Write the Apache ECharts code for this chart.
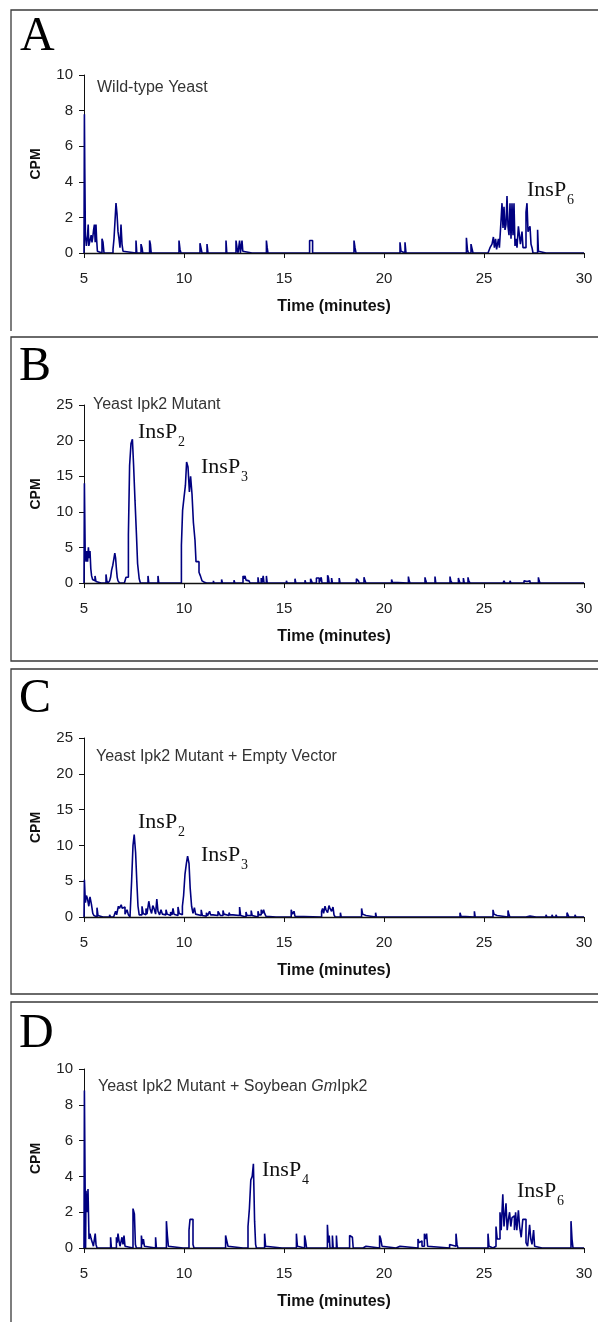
<!DOCTYPE html>
<html><head><meta charset="utf-8">
<script src="https://cdn.jsdelivr.net/npm/echarts@6/dist/echarts.min.js"></script>
<style>html,body{margin:0;padding:0;background:#fff}#c{width:598px;height:1322px}</style>
</head><body><div id="c"></div>
<script>
// ---------- DATA (time in minutes, CPM) ----------
const traceA = [[5.0,0],[5.02,7.8],[5.04,4.7],[5.07,1.0],[5.12,0.4],[5.17,0.9],[5.21,1.6],[5.24,0.4],[5.28,0.3],[5.32,0.8],[5.36,1.0],[5.40,0.6],[5.44,0.9],[5.48,1.3],[5.52,1.6],[5.56,0.6],[5.60,1.6],[5.63,0.8],[5.67,0.1],[5.72,0],[5.90,0.8],[5.95,0.6],[6.0,0],[6.45,0.2],[6.5,0.8],[6.55,1.8],[6.6,2.8],[6.65,2.2],[6.7,1.2],[6.75,0.8],[6.8,0.3],[6.85,1.6],[6.9,0.5],[6.95,0.1],[7.0,0],
[7.6,0.7],[7.64,0],[7.85,0.5],[7.9,0.3],[7.94,0],[8.28,0.7],[8.32,0.5],[8.36,0],[8.8,0.1],[8.85,0],[9.2,0.1],[9.3,0],[9.55,0.1],[9.65,0],[9.75,0.7],[9.8,0.2],[9.85,0],[10.4,0.1],[10.45,0],[10.8,0.55],[10.85,0.45],[10.9,0],[11.15,0.5],[11.2,0],[11.6,0.1],[11.65,0],[12.1,0.7],[12.14,0],[12.6,0.7],[12.65,0.3],[12.7,0],[12.78,0.7],[12.82,0],[12.9,0.7],[12.94,0.1],[13.0,0],[13.4,0.1],[13.45,0],
[14.12,0.7],[14.16,0.3],[14.2,0],[14.45,0.1],[14.5,0],[14.75,0.1],[14.8,0],[16.28,0.7],[16.33,0.6],[16.38,0.7],[16.43,0],[16.85,0.1],[16.9,0],[18.1,0.1],[18.2,0],[18.5,0.7],[18.55,0.3],[18.6,0],[19.0,0.1],[19.05,0],[19.45,0.1],[19.55,0],[20.25,0.1],[20.35,0],[20.8,0.6],[20.85,0.1],[20.9,0],[21.05,0.6],[21.1,0],[21.7,0.1],[21.75,0],[22.55,0.1],[22.6,0],[23.1,0.1],[23.15,0],[23.6,0.1],[23.65,0],
[24.12,0.85],[24.17,0.2],[24.22,0],[24.35,0.5],[24.4,0.4],[24.45,0],[24.6,0.1],[24.65,0],[25.2,0.1],[25.3,0.3],[25.4,0.5],[25.47,0.9],[25.52,0.3],[25.58,0.8],[25.63,0.2],[25.72,0.8],[25.77,0.3],[25.85,1.8],[25.9,2.8],[25.95,1.4],[26.0,2.6],[26.05,1.3],[26.1,1.6],[26.15,3.2],[26.2,1.5],[26.25,1.0],[26.3,2.8],[26.35,0.8],[26.4,2.8],[26.45,1.0],[26.5,2.8],[26.55,0.4],[26.6,0.8],[26.65,0.3],[26.72,1.5],[26.77,1.0],[26.82,0.5],[26.9,1.2],[26.95,0.3],[27.1,2.3],[27.15,2.8],[27.2,1.2],[27.3,1.5],[27.35,0.5],[27.4,0.3],[27.45,0],[27.68,1.3],[27.72,0.1],[27.78,0],[28.1,0.1],[28.15,0],[28.9,0.1],[28.95,0],[30,0]];

const traceB = [[5.0,0],[5.02,14],[5.06,4.1],[5.1,3.0],[5.14,4.5],[5.18,3.0],[5.22,5.0],[5.26,3.5],[5.3,4.5],[5.34,2.0],[5.38,1.0],[5.43,0.5],[5.48,0.3],[5.55,1.0],[5.6,0.2],[5.65,0],[5.85,0.2],[5.9,0],[6.1,1.2],[6.14,0.3],[6.2,0],[6.28,0.3],[6.33,0.8],[6.38,1.8],[6.44,2.5],[6.5,3.5],[6.54,4.2],[6.58,3.5],[6.62,2.0],[6.66,0.8],[6.7,0.3],[6.78,0],[7.02,0.2],[7.1,0.8],[7.22,6.8],[7.28,16.5],[7.35,19.6],[7.42,20.2],[7.48,16.5],[7.55,11.6],[7.62,7],[7.68,2.7],[7.76,0.6],[7.82,0],[8.2,1.0],[8.24,0],[8.7,1.0],[8.74,0],
[9.87,5.3],[9.93,10.2],[10.0,12],[10.07,13.7],[10.13,17],[10.2,16.3],[10.27,12.8],[10.33,15],[10.4,12.5],[10.47,8.5],[10.55,6],[10.6,3],[10.75,1.5],[10.82,1.0],[10.9,0.3],[10.97,0.1],[11.02,0],[11.13,0.1],[11.17,0],[11.47,0.3],[11.5,0],[11.62,0.2],[11.66,0],[11.88,0.5],[11.92,0],[12.1,0.2],[12.14,0],[12.5,0.4],[12.54,0],[12.95,1.0],[13.0,0.6],[13.05,1.0],[13.1,0.4],[13.15,0.3],[13.25,0.3],[13.3,0],[13.7,0.8],[13.74,0],[13.86,0.7],[13.9,0],[13.96,1.0],[14.0,0],[14.12,1.0],[14.16,0],[14.7,0.2],[14.74,0],[15.12,0.3],[15.16,0],[15.55,0.6],[15.59,0],
[16.05,0.4],[16.09,0],[16.33,0.6],[16.38,0.5],[16.42,0],[16.62,0.7],[16.67,0.9],[16.72,0.7],[16.76,0],[16.86,0.8],[16.9,0],[17.18,1.1],[17.22,0.8],[17.26,0],[17.38,0.7],[17.42,0],[17.76,0.7],[17.8,0],[18.62,0.6],[18.67,0.8],[18.72,0.3],[18.76,0],[19.0,0.8],[19.05,0.3],[19.1,0],[19.65,0.1],[19.7,0],[20.38,0.5],[20.42,0.1],[20.48,0],[21.22,0.9],[21.26,0.3],[21.3,0],[22.05,0.8],[22.09,0.3],[22.13,0],[22.55,0.9],[22.59,0],[23.3,0.9],[23.34,0.3],[23.4,0],[23.72,0.7],[23.76,0.3],[23.8,0],[23.97,0.7],[24.01,0],[24.2,0.8],[24.24,0.3],[24.3,0],[24.52,0.1],[24.56,0],[25.95,0.2],[26.0,0.3],[26.05,0],[26.3,0.3],[26.35,0],[27.0,0.3],[27.1,0.2],[27.15,0],[27.25,0.3],[27.3,0],[27.72,0.8],[27.76,0.3],[27.8,0],[28.45,0.2],[28.5,0],[30,0]];

const traceC = [[5.0,0],[5.02,5.2],[5.07,2.0],[5.12,3.0],[5.18,2.5],[5.24,1.5],[5.3,2.8],[5.37,1.8],[5.44,0.5],[5.5,0.2],[5.56,0],[5.65,1.3],[5.7,0.2],[5.75,0],[5.95,0.2],[6.0,0],[6.28,0.3],[6.33,0],[6.48,0.2],[6.58,0.8],[6.63,0.3],[6.72,1.5],[6.77,1.2],[6.86,1.7],[6.91,1.2],[6.99,1.4],[7.05,0.4],[7.15,1.0],[7.22,0.3],[7.3,0],[7.38,5],[7.45,10],[7.51,11.5],[7.58,9],[7.64,5],[7.7,1.5],[7.76,0.3],[7.9,1.5],[7.96,0.5],[8.02,0.3],[8.1,1.2],[8.15,0.4],[8.24,2.2],[8.3,1.2],[8.38,0.5],[8.44,1.6],[8.5,1.2],[8.58,0.4],[8.64,2.5],[8.7,0.8],[8.78,0.3],[8.85,1.0],[8.92,0.4],[9.0,0.3],[9.1,1.0],[9.16,0.4],[9.25,0.2],[9.33,0.7],[9.4,0.3],[9.45,1.2],[9.5,0.4],[9.6,0.2],[9.7,1.4],[9.76,0.5],[9.85,0.3],[9.92,1.5],[9.98,3],[10.05,6],[10.12,7.5],[10.18,8.5],[10.25,7.5],[10.31,4],[10.38,1.5],[10.45,0.5],[10.52,1.3],[10.58,0.4],[10.65,0.2],[10.86,1.0],[10.92,0.2],[11.0,0.1],[11.12,0.6],[11.18,0.2],[11.28,0.8],[11.33,0.3],[11.45,0.2],[11.7,0.8],[11.76,0.5],[11.82,0.2],[11.95,0.9],[12.0,0.4],[12.1,0.2],[12.25,0.6],[12.3,0.3],[12.45,0.2],[12.78,1.4],[12.83,0.2],[12.9,0],[13.1,0.7],[13.15,0.2],[13.36,0.9],[13.41,0.2],[13.5,0],[13.7,0.8],[13.75,0.3],[13.86,1.0],[13.92,0.5],[13.98,1.0],[14.03,0.5],[14.1,0.1],[14.15,0],[14.6,0.2],[14.65,0],[14.9,0.1],[14.95,0],
[15.36,1.0],[15.42,0.4],[15.5,0.8],[15.55,0.1],[15.6,0],[16.88,0.8],[16.93,1.2],[16.98,0.5],[17.05,1.5],[17.1,1.0],[17.18,0.6],[17.25,1.6],[17.3,1.2],[17.38,0.8],[17.45,1.4],[17.5,0.3],[17.56,0],[17.82,0.6],[17.86,0],[18.88,1.2],[18.93,0.4],[19.0,0.2],[19.1,0],[19.58,0.6],[19.62,0],[21.22,0.2],[21.27,0],[22.27,0.2],[22.32,0],[22.77,0.2],[22.82,0],[23.8,0.6],[23.85,0.1],[23.9,0],[24.52,0.8],[24.56,0],[25.45,1.0],[25.5,0.4],[25.6,0.2],[25.65,0],[26.2,0.9],[26.25,0.3],[26.3,0],[27.1,0.2],[27.2,0.15],[27.3,0.2],[27.4,0],[27.6,0.2],[27.7,0],[28.1,0.3],[28.15,0],[28.4,0.3],[28.45,0],[28.6,0.3],[28.65,0],[29.15,0.6],[29.2,0.3],[29.25,0],[29.55,0.3],[29.6,0],[29.8,0.2],[29.85,0],[30,0]];

const traceD = [[5.0,0],[5.02,8.8],[5.08,0],[5.1,3.2],[5.16,2.0],[5.2,3.3],[5.25,0.5],[5.3,0.8],[5.36,0.5],[5.42,0.3],[5.47,0.1],[5.52,0],[5.56,0.8],[5.6,0.2],[5.65,0],[6.33,0.6],[6.37,0],[6.62,0.6],[6.66,0.3],[6.7,0.8],[6.75,0.4],[6.8,0.1],[6.9,0.6],[6.95,0.2],[7.0,0.7],[7.05,0.1],[7.1,0],[7.45,2.2],[7.52,1.9],[7.57,0.2],[7.62,0],[7.87,0.7],[7.92,0.2],[7.97,0.5],[8.02,0.1],[8.06,0],[8.58,0.6],[8.62,0],[9.12,1.5],[9.17,0.7],[9.22,0.1],[9.26,0],[9.95,0.1],[10.0,0],[10.25,1.0],[10.3,1.6],[10.38,1.6],[10.45,0.2],[10.5,0],[11.7,0.1],[11.75,0],[12.08,0.7],[12.14,0.4],[12.2,0.1],[12.25,0],[12.95,0.1],[13.0,0],[13.2,1.2],[13.27,2.2],[13.34,3.8],[13.41,4.0],[13.47,4.7],[13.53,1.5],[13.58,0.2],[13.62,0],[14.03,0.8],[14.08,0.1],[14.12,0],[14.9,0.1],[14.95,0],
[15.62,0.8],[15.67,0.1],[15.72,0],[16.03,0.7],[16.08,0.4],[16.13,0],[16.6,0.1],[16.65,0],[17.17,1.3],[17.22,0.3],[17.26,0.7],[17.3,0],[17.42,0.7],[17.46,0],[17.62,0.7],[17.66,0],[18.28,0.7],[18.35,0.6],[18.42,0.7],[18.46,0],[18.95,0.1],[19.1,0],[19.78,0.7],[19.84,0.5],[19.9,0.1],[19.95,0],[20.6,0.1],[20.8,0],[21.7,0.5],[21.76,0.3],[21.85,0.4],[21.9,0.1],[22.02,0.8],[22.08,0.5],[22.13,0.8],[22.18,0.1],[22.22,0],[23.28,0.2],[23.35,0.1],[23.6,0.8],[23.65,0.2],[23.7,0],[25.2,0.8],[25.25,0.1],[25.3,0],[25.45,0.1],[25.6,1.2],[25.66,0.5],[25.8,2.0],[25.86,1.0],[25.94,3.0],[26.0,1.2],[26.1,2.5],[26.16,1.0],[26.22,1.6],[26.28,2.0],[26.34,1.2],[26.4,1.7],[26.46,1.8],[26.52,1.0],[26.58,2.0],[26.64,1.0],[26.72,2.1],[26.78,1.2],[26.86,0.6],[26.94,1.6],[27.02,1.6],[27.1,0.3],[27.18,0.1],[27.28,1.3],[27.34,0.5],[27.4,0.2],[27.48,1.0],[27.53,0.1],[27.58,0],[27.9,0.1],[28.0,0],[29.0,0.1],[29.05,0],[29.35,1.5],[29.4,0.5],[29.45,0],[29.6,0.1],[29.65,0],[30,0]];

const panelLetters = ['A', 'B', 'C', 'D'];
const yMaxes = [10, 25, 25, 10];
const yIntervals = [2, 5, 5, 2];
const xRange = [5, 30];
const xInterval = 5;
const xAxisTitle = 'Time (minutes)';
const yAxisTitle = 'CPM';
const sampleNames = ['Wild-type Yeast', 'Yeast Ipk2 Mutant', 'Yeast Ipk2 Mutant + Empty Vector', '{n|Yeast Ipk2 Mutant + Soybean }{i|Gm}{n|Ipk2}'];
const peakSubscripts = [['6'], ['2', '3'], ['2', '3'], ['4', '6']];

// ---------- LAYOUT ----------
const traces = [traceA, traceB, traceC, traceD];
const gridTops = [75, 405, 738, 1069];
const gridHeights = [178, 178, 179, 179];
const GL = 84, GW = 500;
const letterPos = [[20, 37], [19, 367], [19, 699], [19, 1034]];
const namePos = [[97, 88], [93, 405], [96, 757], [98, 1087]];
const peakPos = [[[527, 190]], [[138, 432], [201, 467]], [[138, 822], [201, 855]], [[262, 1170], [517, 1191]]];

const SANS = '"Liberation Sans", Arial, sans-serif';
const SERIF = '"Liberation Serif", "Times New Roman", serif';
const NAVY = '#000080';

const grid = [], xAxis = [], yAxis = [], series = [];
traces.forEach((tr, i) => {
  grid.push({ left: GL, width: GW, top: gridTops[i], height: gridHeights[i] });
  xAxis.push({
    type: 'value', gridIndex: i, min: xRange[0], max: xRange[1], interval: xInterval, z: 3,
    name: xAxisTitle, nameLocation: 'middle', nameGap: 46,
    nameTextStyle: { fontFamily: SANS, fontWeight: 'bold', fontSize: 16, color: '#111' },
    axisLine: { show: true, onZero: false, lineStyle: { color: '#111', width: 1.4 } },
    axisTick: { show: true, inside: false, length: 5, lineStyle: { color: '#111' } },
    axisLabel: { fontFamily: SANS, fontSize: 15, color: '#222', margin: 18 },
    splitLine: { show: false }
  });
  yAxis.push({
    type: 'value', gridIndex: i, min: 0, max: yMaxes[i], interval: yIntervals[i], z: 0,
    name: yAxisTitle, nameLocation: 'middle', nameGap: 41, nameRotate: 90,
    nameTextStyle: { fontFamily: SANS, fontWeight: 'bold', fontSize: 14, color: '#111' },
    axisLine: { show: true, lineStyle: { color: '#111', width: 1 } },
    axisTick: { show: true, inside: false, length: 5, lineStyle: { color: '#111' } },
    axisLabel: { fontFamily: SANS, fontSize: 15, color: '#222', margin: 11 },
    splitLine: { show: false }
  });
  series.push({
    type: 'line', xAxisIndex: i, yAxisIndex: i, data: tr, step: 'end',
    showSymbol: false, symbol: 'none', z: 2, animation: false,
    lineStyle: { color: NAVY, width: 1.6 }
  });
});

const graphic = [];
// panel frames
graphic.push({ type: 'polyline', shape: { points: [[11, 331], [11, 10], [600, 10]] }, style: { stroke: '#3a3a3a', lineWidth: 1.3, fill: null } });
graphic.push({ type: 'rect', shape: { x: 11, y: 337, width: 600, height: 324 }, style: { stroke: '#3a3a3a', lineWidth: 1.3, fill: null } });
graphic.push({ type: 'rect', shape: { x: 11, y: 669, width: 600, height: 325 }, style: { stroke: '#3a3a3a', lineWidth: 1.3, fill: null } });
graphic.push({ type: 'polyline', shape: { points: [[11, 1330], [11, 1002], [600, 1002]] }, style: { stroke: '#3a3a3a', lineWidth: 1.3, fill: null } });

panelLetters.forEach((L, i) => {
  graphic.push({ type: 'text', x: letterPos[i][0], y: letterPos[i][1],
    style: { text: L, font: '48px ' + SERIF, fill: '#000', align: 'left', verticalAlign: 'middle' } });
  graphic.push({ type: 'text', x: namePos[i][0], y: namePos[i][1],
    style: { text: sampleNames[i], font: '16px ' + SANS, fill: '#333', align: 'left', verticalAlign: 'middle',
      rich: { n: { fontFamily: SANS, fontSize: 16, fill: '#333', color: '#333' }, i: { fontFamily: SANS, fontSize: 16, fontStyle: 'italic', fill: '#333', color: '#333' } } } });
  peakSubscripts[i].forEach((s, k) => {
    const p = peakPos[i][k];
    graphic.push({ type: 'text', x: p[0], y: p[1], style: { text: 'InsP', font: '22px ' + SERIF, fill: '#111', align: 'left', verticalAlign: 'middle' } });
    graphic.push({ type: 'text', x: p[0] + 40, y: p[1] + 10, style: { text: s, font: '14px ' + SERIF, fill: '#111', align: 'left', verticalAlign: 'middle' } });
  });
});

const chart = echarts.init(document.getElementById('c'), null, { renderer: 'canvas' });
chart.setOption({ animation: false, backgroundColor: '#fff', grid, xAxis, yAxis, series, graphic });
</script></body></html>
